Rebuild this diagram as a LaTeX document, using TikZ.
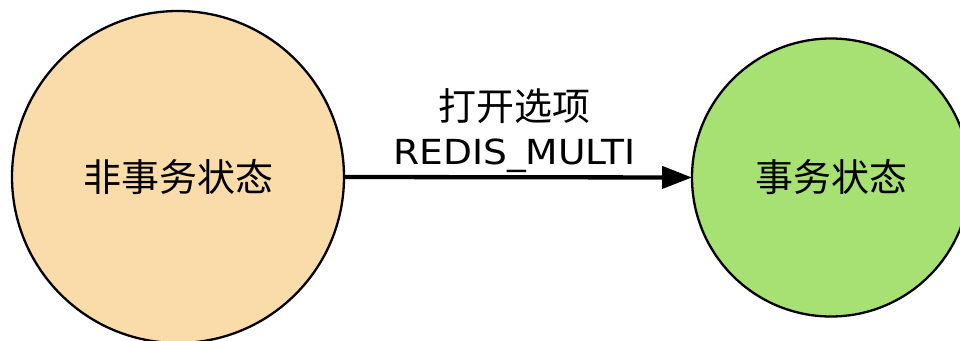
\documentclass[tikz,border=0pt]{standalone}
\usepackage{fontspec}
\setmainfont{DejaVu Sans}
\newfontfamily\cjk{Noto Sans CJK SC}
\usetikzlibrary{arrows.meta}
\definecolor{peach}{RGB}{250,220,170}
\definecolor{lgreen}{RGB}{168,225,115}
\begin{document}
\begin{tikzpicture}[x=1pt,y=1pt,
  state/.style={circle,draw=black,line width=2.3pt,inner sep=0pt,outer sep=0pt,
    font=\cjk\fontsize{38}{40}\selectfont},
  lbl/.style={inner sep=0pt,text=black}]
\useasboundingbox (0,0) rectangle (960,340);
\clip (0,0) rectangle (960,340);
\node[state,fill=peach,minimum size=332pt] (ns) at (178,163) {非事务状态};
\node[state,fill=lgreen,minimum size=278pt] (ts) at (831,162.5) {事务状态};
\draw[line width=4.3pt,-{Triangle[length=30pt,width=22pt]}] (ns.east) -- (ts.west);
\node[lbl,font=\cjk\fontsize{38}{40}\selectfont] (l1) at (514,234) {打开选项};
\node[lbl,anchor=base,font=\fontsize{34.5}{40}\selectfont] (l2) at (514.5,175) {\scalebox{1.09}[1]{REDIS\_MULTI}};
\end{tikzpicture}
\end{document}
